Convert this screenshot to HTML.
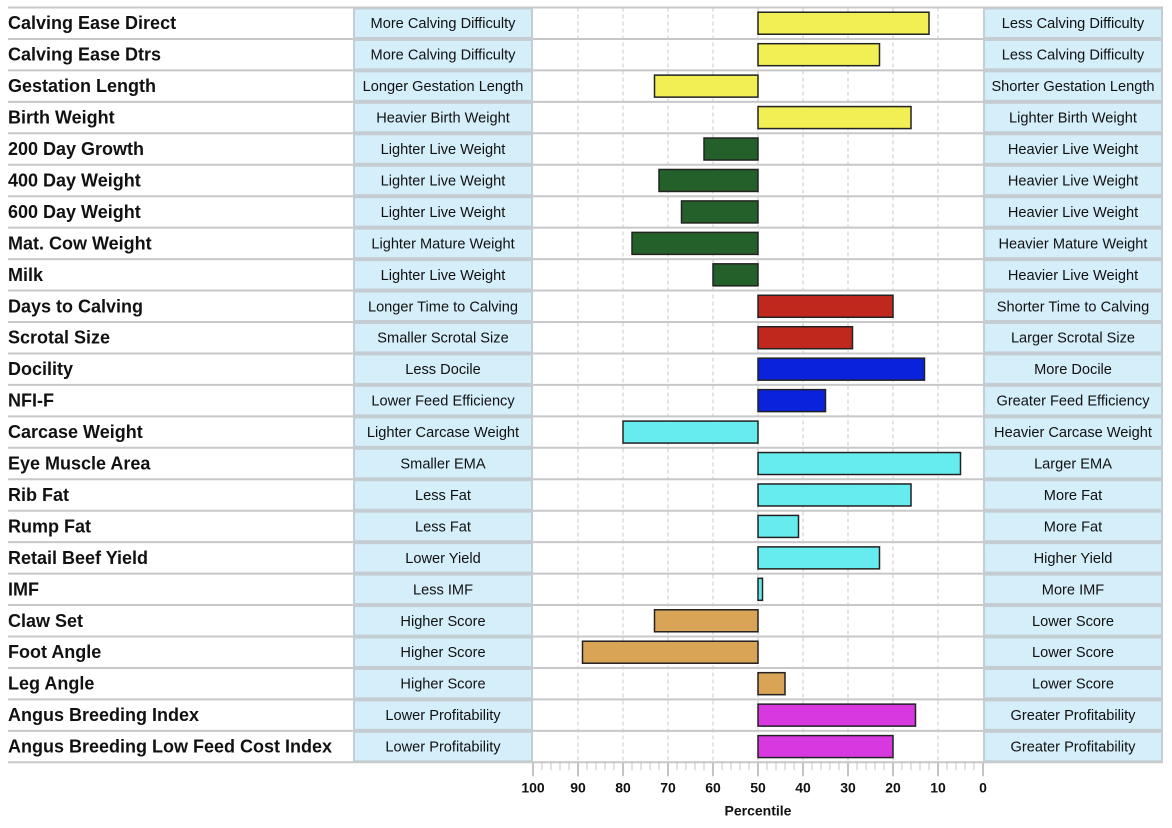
<!DOCTYPE html>
<html><head><meta charset="utf-8"><style>
body{margin:0;background:#fff;}
svg{display:block;font-family:"Liberation Sans",Arial,sans-serif;}
</style></head><body>
<svg id="c" width="1172" height="828"></svg>
<script>
const traits=["Calving Ease Direct","Calving Ease Dtrs","Gestation Length","Birth Weight","200 Day Growth","400 Day Weight","600 Day Weight","Mat. Cow Weight","Milk","Days to Calving","Scrotal Size","Docility","NFI-F","Carcase Weight","Eye Muscle Area","Rib Fat","Rump Fat","Retail Beef Yield","IMF","Claw Set","Foot Angle","Leg Angle","Angus Breeding Index","Angus Breeding Low Feed Cost Index"];
const leftLabels=["More Calving Difficulty","More Calving Difficulty","Longer Gestation Length","Heavier Birth Weight","Lighter Live Weight","Lighter Live Weight","Lighter Live Weight","Lighter Mature Weight","Lighter Live Weight","Longer Time to Calving","Smaller Scrotal Size","Less Docile","Lower Feed Efficiency","Lighter Carcase Weight","Smaller EMA","Less Fat","Less Fat","Lower Yield","Less IMF","Higher Score","Higher Score","Higher Score","Lower Profitability","Lower Profitability"];
const rightLabels=["Less Calving Difficulty","Less Calving Difficulty","Shorter Gestation Length","Lighter Birth Weight","Heavier Live Weight","Heavier Live Weight","Heavier Live Weight","Heavier Mature Weight","Heavier Live Weight","Shorter Time to Calving","Larger Scrotal Size","More Docile","Greater Feed Efficiency","Heavier Carcase Weight","Larger EMA","More Fat","More Fat","Higher Yield","More IMF","Lower Score","Lower Score","Lower Score","Greater Profitability","Greater Profitability"];
const percentiles=[12,23,73,16,62,72,67,78,60,20,29,13,35,80,5,16,41,23,49,73,89,44,15,20];
const groups=["calving","calving","calving","calving","growth","growth","growth","growth","growth","fertility","fertility","temperament","feed","carcase","carcase","carcase","carcase","carcase","carcase","structure","structure","structure","index","index"];
const groupColors={calving:"#f2ef55",growth:"#24612a",fertility:"#c0281e",temperament:"#0a22dc",feed:"#0a22dc",carcase:"#66ecef",structure:"#d9a455",index:"#d838e0"};
const ticks=[100,90,80,70,60,50,40,30,20,10,0];

const NS="http://www.w3.org/2000/svg",svg=document.getElementById("c");
const x0=533,x1=983,topY=7.5,rowH=31.45;
const xs=v=>x1-(v/100)*(x1-x0);
const ys=i=>topY+i*rowH;
function mk(t,a,p){const e=document.createElementNS(NS,t);for(const k in a)e.setAttribute(k,a[k]);(p||svg).appendChild(e);return e;}
const n=traits.length,bottom=ys(n);
ticks.forEach(t=>{if(t===0||t===100)return;
const g=mk("line",{x1:xs(t),x2:xs(t),y1:topY,y2:bottom,stroke:"#c8c8c8","stroke-dasharray":"4,3"});

});
for(let i=0;i<=n;i++){const l=mk("line",{x1:8,x2:1163,y1:ys(i),y2:ys(i),stroke:"#c8c8c8","stroke-width":2});

}
traits.forEach((t,i)=>{const y=ys(i),cy=y+rowH/2;
const tl=mk("text",{x:8,y:cy+6,"font-size":18,"font-weight":"bold",fill:"#111"});tl.textContent=t;


[[353,leftLabels[i],'left-descriptor'],[983,rightLabels[i],'right-descriptor']].forEach(([bx,txt,nm])=>{
const r=mk("rect",{x:bx+1,y:y+1,width:178,height:rowH-2,fill:"#d4eefa",stroke:"#c4cdd2","stroke-width":2});


const tx=mk("text",{x:bx+90,y:cy+5,"font-size":14.6,"text-anchor":"middle",fill:"#111"});tx.textContent=txt;

});
const p=percentiles[i],a=xs(p),b=xs(50);
const bar=mk("rect",{x:Math.min(a,b),y:cy-11,width:Math.abs(a-b),height:22,fill:groupColors[groups[i]],stroke:"#222","stroke-width":1.5});

});
for(let v=0;v<=100;v+=2){const major=v%10===0;
const tk=mk("line",{x1:xs(v),x2:xs(v),y1:bottom,y2:bottom+(major?14:8),stroke:"#c4c4c4","stroke-width":major?2:1});

}
ticks.forEach(t=>{const tx=mk("text",{x:xs(t),y:bottom+30,"font-size":14,"font-weight":"bold","text-anchor":"middle",fill:"#111"});tx.textContent=t;

});
const at=mk("text",{x:xs(50),y:bottom+53,"font-size":14,"font-weight":"bold","text-anchor":"middle",fill:"#111"});at.textContent="Percentile";


</script>
</body></html>
